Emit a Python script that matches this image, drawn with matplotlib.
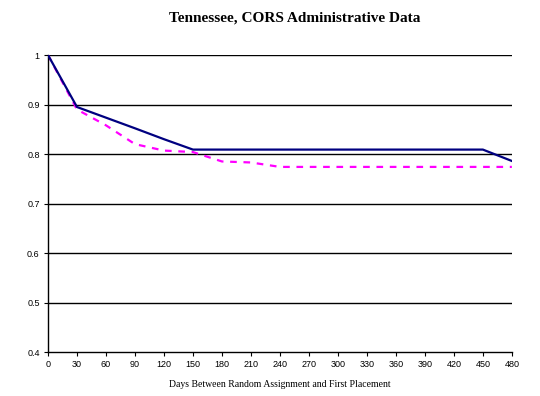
import matplotlib
matplotlib.use("Agg")
import matplotlib.pyplot as plt

# data
days = [0, 30, 60, 90, 120, 150, 180, 210, 240, 270, 300, 330, 360, 390, 420, 450, 480]
cors_solid = [1.0, 0.895, 0.8735, 0.852, 0.830, 0.809, 0.809, 0.809, 0.809, 0.809,
              0.809, 0.809, 0.809, 0.809, 0.809, 0.809, 0.786]
cors_dashed = [1.0, 0.890, 0.858, 0.820, 0.807, 0.804, 0.785, 0.783, 0.774, 0.774,
               0.774, 0.774, 0.774, 0.774, 0.774, 0.774, 0.774]
x_ticks = list(range(0, 481, 30))
y_ticks = [0.4, 0.5, 0.6, 0.7, 0.8, 0.9, 1.0]
y_labels = ["0.4", "0.5", "0.6", "0.7", "0.8", "0.9", "1"]

fig = plt.figure(figsize=(5.4, 3.96), dpi=100)
ax = fig.add_axes([0.0889, 0.111, 0.859, 0.750])

for y in y_ticks[1:]:
    ax.axhline(y, color="black", linewidth=1.0, zorder=1)

ax.plot(days, cors_solid, color="#000080", linewidth=1.6, zorder=3)
ax.plot(days, cors_dashed, color="#FF00FF", linewidth=1.6,
        linestyle=(0, (3, 3)), zorder=2)

ax.set_xlim(0, 480)
ax.set_ylim(0.4, 1.0)
ax.set_xticks(x_ticks)
ax.set_xticklabels([str(t) for t in x_ticks], fontsize=6.5, family="Liberation Sans")
ax.set_yticks(y_ticks)
ax.set_yticklabels(y_labels, fontsize=6.5, family="Liberation Sans")
ax.tick_params(direction="out", length=3, width=0.8, pad=3)

for side in ["top", "right"]:
    ax.spines[side].set_visible(False)
for side in ["left", "bottom"]:
    ax.spines[side].set_linewidth(1.0)

ax.set_xlabel("Days Between Random Assignment and First Placement",
              fontsize=7, family="Liberation Serif", labelpad=8)
fig.text(0.545, 0.955, "Tennessee, CORS Administrative Data", ha="center", va="center",
         fontsize=11, fontweight="bold", family="Liberation Serif")

fig.savefig("out.png", dpi=100)
